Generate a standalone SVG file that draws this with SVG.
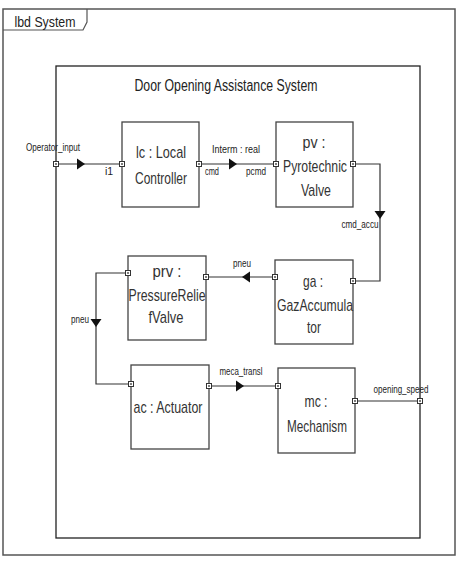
<svg xmlns="http://www.w3.org/2000/svg" width="459" height="565" viewBox="0 0 459 565">
<style>
.frame{fill:#fff;stroke:#555;stroke-width:1.5}
.inner{fill:none;stroke:#222;stroke-width:1.3}
.box{fill:#fff;stroke:#444;stroke-width:1.3}
.wire{fill:none;stroke:#333;stroke-width:1.2}
.port{fill:#fff;stroke:#333;stroke-width:1}
.pdot{fill:#333}
.t{font-family:"Liberation Sans Narrow","Liberation Sans",Arial,sans-serif;fill:#333;text-anchor:middle}
.big{font-size:17px}
.sm{font-size:10.5px;fill:#222}
.ttl{font-size:16px;fill:#222}
.hdr{font-size:14.5px;fill:#222}
.arr{fill:#111}
</style>
<defs>
<g id="port"><rect class="port" x="-2.5" y="-2.5" width="5" height="5"/><rect class="pdot" x="-0.8" y="-0.8" width="1.6" height="1.6"/></g>
<path id="arrR" class="arr" d="M-4,-5.5 L4,0 L-4,5.5 Z"/>
</defs>
<rect width="459" height="565" fill="#fff"/>
<g id="frame">
<rect class="frame" x="3" y="9" width="452" height="546"/>
<path d="M3,30 L83,30 L87,22 L87,9" fill="none" stroke="#555" stroke-width="1.2"/>
<text class="t hdr" x="45" y="27" textLength="61" lengthAdjust="spacingAndGlyphs">lbd System</text>
</g>
<g id="system">
<rect class="inner" x="56" y="66" width="364" height="472"/>
<text class="t ttl" x="226" y="91" textLength="183" lengthAdjust="spacingAndGlyphs">Door Opening Assistance System</text>
</g>
<g id="connectors">
<path class="wire" d="M56,164 H122"/>
<path class="wire" d="M199,164 H276"/>
<path class="wire" d="M353,164 H380 V281 H353"/>
<path class="wire" d="M275,277 H206"/>
<path class="wire" d="M128,273 H96 V384 H131"/>
<path class="wire" d="M209,386 H278"/>
<path class="wire" d="M355,401 H420"/>
<use href="#arrR" transform="translate(81,164)"/>
<use href="#arrR" transform="translate(233,164)"/>
<use href="#arrR" transform="translate(380,215) rotate(90)"/>
<use href="#arrR" transform="translate(246,277) rotate(180)"/>
<use href="#arrR" transform="translate(96,323) rotate(90)"/>
<use href="#arrR" transform="translate(240,386)"/>
<text class="t sm" x="53" y="151" textLength="54" lengthAdjust="spacingAndGlyphs">Operator_input</text>
<text class="t sm" x="109" y="175">i1</text>
<text class="t sm" x="212" y="175" textLength="14" lengthAdjust="spacingAndGlyphs">cmd</text>
<text class="t sm" x="236" y="153" textLength="48" lengthAdjust="spacingAndGlyphs">Interm : real</text>
<text class="t sm" x="256" y="175" textLength="20" lengthAdjust="spacingAndGlyphs">pcmd</text>
<text class="t sm" x="360" y="228" textLength="37" lengthAdjust="spacingAndGlyphs">cmd_accu</text>
<text class="t sm" x="242" y="267" textLength="18" lengthAdjust="spacingAndGlyphs">pneu</text>
<text class="t sm" x="80" y="323" textLength="18" lengthAdjust="spacingAndGlyphs">pneu</text>
<text class="t sm" x="241" y="375" textLength="43" lengthAdjust="spacingAndGlyphs">meca_transl</text>
<text class="t sm" x="401" y="393" textLength="55" lengthAdjust="spacingAndGlyphs">opening_speed</text>
</g>
<g id="lc">
<rect class="box" x="122" y="122" width="77" height="85"/>
<text class="t big" x="161" y="158" textLength="50" lengthAdjust="spacingAndGlyphs">lc : Local</text>
<text class="t big" x="161" y="184" textLength="52" lengthAdjust="spacingAndGlyphs">Controller</text>
</g>
<g id="pv">
<rect class="box" x="276" y="122" width="77" height="85"/>
<text class="t big" x="314" y="148" textLength="23" lengthAdjust="spacingAndGlyphs">pv :</text>
<text class="t big" x="315" y="172" textLength="64" lengthAdjust="spacingAndGlyphs">Pyrotechnic</text>
<text class="t big" x="316" y="196" textLength="30" lengthAdjust="spacingAndGlyphs">Valve</text>
</g>
<g id="ga">
<rect class="box" x="275" y="260" width="78" height="84"/>
<text class="t big" x="313" y="287" textLength="20" lengthAdjust="spacingAndGlyphs">ga :</text>
<text class="t big" x="315" y="311" textLength="76" lengthAdjust="spacingAndGlyphs">GazAccumula</text>
<text class="t big" x="314" y="333" textLength="14" lengthAdjust="spacingAndGlyphs">tor</text>
</g>
<g id="prv">
<rect class="box" x="128" y="256" width="78" height="84"/>
<text class="t big" x="167" y="277" textLength="29" lengthAdjust="spacingAndGlyphs">prv :</text>
<text class="t big" x="167" y="301" textLength="77" lengthAdjust="spacingAndGlyphs">PressureRelie</text>
<text class="t big" x="166" y="323" textLength="35" lengthAdjust="spacingAndGlyphs">fValve</text>
</g>
<g id="ac">
<rect class="box" x="131" y="365" width="78" height="84"/>
<text class="t big" x="168" y="413" textLength="69" lengthAdjust="spacingAndGlyphs">ac : Actuator</text>
</g>
<g id="mc">
<rect class="box" x="278" y="368" width="77" height="85"/>
<text class="t big" x="316" y="407" textLength="23" lengthAdjust="spacingAndGlyphs">mc :</text>
<text class="t big" x="317" y="432" textLength="60" lengthAdjust="spacingAndGlyphs">Mechanism</text>
</g>
<g id="ports">
<use href="#port" x="56" y="164"/>
<use href="#port" x="122" y="164"/>
<use href="#port" x="199" y="164"/>
<use href="#port" x="276" y="164"/>
<use href="#port" x="353" y="164"/>
<use href="#port" x="353" y="281"/>
<use href="#port" x="275" y="277"/>
<use href="#port" x="206" y="277"/>
<use href="#port" x="128" y="273"/>
<use href="#port" x="131" y="384"/>
<use href="#port" x="209" y="386"/>
<use href="#port" x="278" y="386"/>
<use href="#port" x="355" y="401"/>
<use href="#port" x="420" y="401"/>
</g>
</svg>
